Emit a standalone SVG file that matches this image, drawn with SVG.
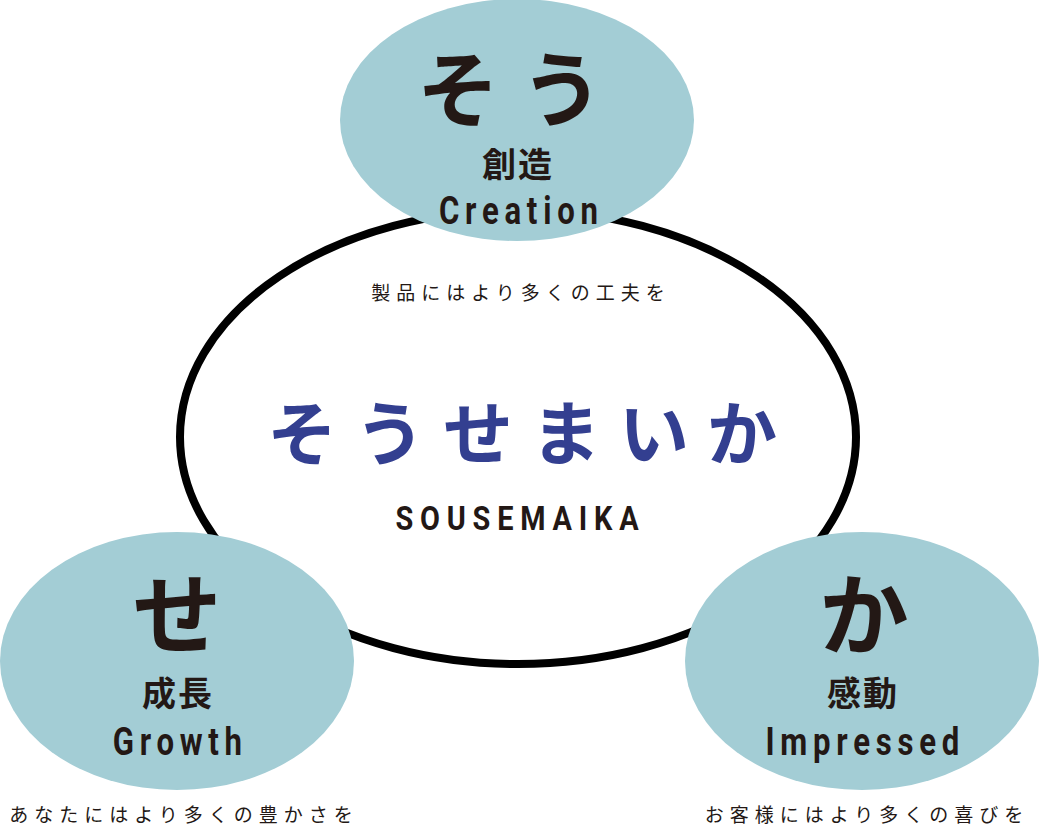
<svg xmlns="http://www.w3.org/2000/svg" width="1039" height="826" viewBox="0 0 1039 826">
<style>
.bub{fill:#a3cdd5;}
.jp{font-family:"Noto Sans CJK JP","Noto Sans",sans-serif;text-anchor:middle;}
.big{font-size:89px;font-weight:700;fill:#231815;}
.kan{font-size:34px;font-weight:700;fill:#231815;letter-spacing:2px;}
.en{font-family:"Roboto","Liberation Sans",sans-serif;font-size:38px;font-weight:700;fill:#231815;text-anchor:middle;letter-spacing:7px;}
.cap{font-size:19px;font-weight:400;fill:#231815;letter-spacing:6px;}
</style>
<g id="connectors">
<ellipse cx="518" cy="437" rx="338" ry="227" fill="#fff" stroke="#000" stroke-width="8"/>
</g>
<g id="center">
<text class="jp" x="531" y="460" font-size="70" font-weight="700" fill="#333f90" letter-spacing="18">そうせまいか</text>
<text transform="translate(517,530) scale(0.85,1)" x="4" y="0" font-family="Roboto,'Liberation Sans',sans-serif" font-size="34" font-weight="700" fill="#231815" text-anchor="middle" letter-spacing="8">SOUSEMAIKA</text>
</g>
<g id="node-sou">
<ellipse class="bub" cx="517" cy="120" rx="177" ry="121"/>
<text class="jp" x="521" y="120" font-size="82" font-weight="700" fill="#231815" letter-spacing="22">そう</text>
<text class="jp kan" x="518" y="177">創造</text>
<text class="en" transform="translate(518,224) scale(0.82,1)" x="4">Creation</text>
<text class="jp cap" x="521" y="300">製品にはより多くの工夫を</text>
</g>
<g id="node-se">
<ellipse class="bub" cx="177" cy="661" rx="177" ry="129"/>
<text class="jp big" x="177" y="647">せ</text>
<text class="jp kan" x="178" y="706">成長</text>
<text class="en" transform="translate(177,755) scale(0.82,1)" x="4">Growth</text>
<text class="jp cap" x="184" y="822">あなたにはより多くの豊かさを</text>
</g>
<g id="node-ka">
<ellipse class="bub" cx="862" cy="661" rx="177" ry="129"/>
<text class="jp big" x="864" y="648">か</text>
<text class="jp kan" x="863" y="706">感動</text>
<text class="en" transform="translate(862,755) scale(0.82,1)" x="4">Impressed</text>
<text class="jp cap" x="867" y="822">お客様にはより多くの喜びを</text>
</g>
</svg>
